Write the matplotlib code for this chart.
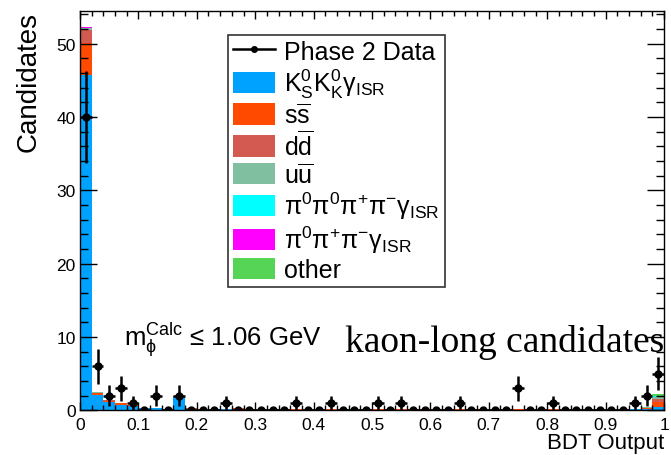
import matplotlib
matplotlib.use("Agg")
import matplotlib.pyplot as plt
import numpy as np
from matplotlib.lines import Line2D
from matplotlib.patches import Patch

plt.rcParams['font.family'] = ['Liberation Sans', 'DejaVu Sans']
plt.rcParams['mathtext.fontset'] = 'custom'
plt.rcParams['mathtext.rm'] = 'Liberation Sans'
plt.rcParams['mathtext.it'] = 'Liberation Sans:italic'

# 50 bins of BDT output between 0 and 1
edges = np.linspace(0, 1, 51)

data_counts = [40, 6, 2, 3, 1, 0, 2, 0, 2, 0,
               0, 0, 1, 0, 0, 0, 0, 0, 1, 0,
               0, 1, 0, 0, 0, 1, 0, 1, 0, 0,
               0, 0, 1, 0, 0, 0, 0, 3, 0, 0,
               1, 0, 0, 0, 0, 0, 0, 1, 2, 5]

kskl = [45.8, 2.1, 1.1, 0.8, 0.6, 0.3, 0.3, 0.2, 1.9, 0.2,
        0.15, 0.15, 0.2, 0.1, 0.1, 0.15, 0.1, 0.1, 0.1, 0.1,
        0.1, 0.1, 0.15, 0.1, 0.1, 0.1, 0.1, 0.1, 0.1, 0.1,
        0.1, 0.1, 0.1, 0.1, 0.1, 0.1, 0.1, 0.1, 0.1, 0.1,
        0.1, 0.1, 0.1, 0.1, 0.15, 0.1, 0.1, 0.15, 0.2, 0.5]
ssbar = [4.3, 0.3, 0.25, 0.2, 0.15, 0.05, 0.05, 0.05, 0.05, 0.15,
         0.05, 0.05, 0.05, 0.2, 0.15, 0.05, 0.05, 0.05, 0.05, 0.05,
         0.05, 0.05, 0.05, 0.1, 0.05, 0.05, 0.05, 0.05, 0.05, 0.05,
         0.05, 0.05, 0.05, 0.05, 0.05, 0.05, 0.1, 0.1, 0.05, 0.05,
         0.05, 0.05, 0.05, 0.05, 0.05, 0.05, 0.05, 0.05, 0.1, 0.7]
ddbar = [1.8, 0.05, 0.03, 0.03, 0.02, 0.02, 0.02, 0.02, 0.02, 0.02,
         0.02, 0.02, 0.02, 0.05, 0.02, 0.02, 0.02, 0.02, 0.02, 0.02,
         0.02, 0.02, 0.02, 0.02, 0.02, 0.02, 0.02, 0.02, 0.02, 0.02,
         0.02, 0.02, 0.02, 0.02, 0.02, 0.02, 0.02, 0.02, 0.02, 0.02,
         0.02, 0.02, 0.02, 0.02, 0.02, 0.02, 0.02, 0.02, 0.1, 0.4]
uubar = [0.2, 0.02, 0, 0, 0, 0, 0, 0, 0, 0,
         0, 0, 0, 0, 0, 0, 0, 0, 0, 0,
         0, 0, 0, 0, 0, 0, 0, 0, 0, 0,
         0, 0, 0, 0, 0, 0, 0, 0, 0, 0,
         0, 0, 0, 0, 0, 0, 0, 0, 0.1, 0.3]
pi4 = [0.1, 0, 0, 0, 0, 0, 0, 0, 0, 0,
       0, 0, 0, 0, 0, 0, 0, 0, 0, 0,
       0, 0, 0, 0, 0, 0, 0, 0, 0, 0,
       0, 0, 0, 0, 0, 0, 0, 0, 0, 0,
       0, 0, 0, 0.05, 0.05, 0, 0, 0, 0, 0.05]
pi3 = [0.05, 0, 0, 0, 0, 0, 0, 0, 0, 0,
       0, 0, 0, 0, 0, 0, 0, 0, 0, 0,
       0, 0, 0, 0, 0, 0, 0, 0, 0, 0,
       0, 0, 0, 0, 0, 0, 0, 0, 0, 0,
       0, 0, 0, 0, 0, 0, 0, 0, 0, 0.05]
other = [0.05, 0, 0, 0, 0, 0, 0, 0, 0, 0,
         0, 0, 0, 0, 0, 0, 0, 0, 0, 0,
         0, 0, 0, 0, 0, 0, 0, 0, 0, 0,
         0, 0, 0, 0, 0, 0, 0, 0, 0, 0,
         0, 0, 0, 0, 0, 0, 0, 0, 0, 0.2]

labels = [r'$\mathregular{K^0_S K^0_K \gamma_{ISR}}$',
          r'$\mathregular{s\overline{s}}$',
          r'$\mathregular{d\overline{d}}$',
          r'$\mathregular{u\overline{u}}$',
          r'$\mathregular{\pi^0\pi^0\pi^{+}\pi^{-} \gamma_{ISR}}$',
          r'$\mathregular{\pi^0\pi^{+}\pi^{-} \gamma_{ISR}}$',
          'other']
colors = ['#00a2ff', '#ff4a00', '#d35a50', '#80c0a0', '#00ffff', '#ff00ff', '#55d455']
components = [kskl, ssbar, ddbar, uubar, pi4, pi3, other]

fig = plt.figure(figsize=(6.71, 4.56), dpi=100)
ax = fig.add_axes([0.1192, 0.0976, 0.8704, 0.8767])

# stacked MC
bottom = np.zeros(50)
for vals, col in zip(components, colors):
    top = bottom + np.array(vals)
    ax.stairs(top, edges, baseline=bottom, fill=True, color=col, lw=0)
    bottom = top

# data points: bin-width horizontal bars, sqrt(N) vertical errors
counts = np.array(data_counts, dtype=float)
centers = 0.5 * (edges[:-1] + edges[1:])
ax.errorbar(centers, counts, xerr=0.01, yerr=np.sqrt(counts), fmt='o', color='black',
            ms=5, lw=1.8, capsize=0)

ax.set_xlim(0, 1)
ax.set_ylim(0, 54.5)
ax.set_xticks(np.arange(0, 1.01, 0.1))
ax.set_xticklabels(['0', '0.1', '0.2', '0.3', '0.4', '0.5', '0.6', '0.7', '0.8', '0.9', '1'])
ax.set_xticks(np.arange(0, 1.001, 0.02), minor=True)
ax.set_yticks([0, 10, 20, 30, 40, 50])
ax.set_yticks(np.arange(0, 54.5, 2), minor=True)
ax.tick_params(axis='both', which='both', direction='in', top=True, right=True,
               labelsize=12.5, width=1)
ax.tick_params(axis='x', which='major', length=6, pad=5)
ax.tick_params(axis='x', which='minor', length=3.5)
ax.tick_params(axis='y', which='major', length=12, pad=3)
ax.tick_params(axis='y', which='minor', length=6)
for s in ax.spines.values():
    s.set_linewidth(1)

ax.set_xlabel('BDT Output', loc='right', fontsize=16, labelpad=0)
ax.set_ylabel('Candidates', loc='top', fontsize=20, labelpad=11)

handles = [Line2D([], [], color='black', marker='o', ms=4, lw=1.8)]
handles += [Patch(facecolor=c, edgecolor='none') for c in colors]
leg = ax.legend(handles, ['Phase 2 Data'] + labels, loc='upper left',
                bbox_to_anchor=(0.253, 0.94), fontsize=18, frameon=True, fancybox=False,
                edgecolor='black', handlelength=1.7, handleheight=0.95,
                handletextpad=0.35, labelspacing=0.1, borderpad=0.2,
                borderaxespad=0)
leg.get_frame().set_linewidth(1.2)

ax.text(0.076, 0.165, r'$\mathregular{m_{\phi}^{Calc}}$ ≤ 1.06 GeV', transform=ax.transAxes,
        fontsize=18.5, va='baseline')
ax.text(1.0, 0.15, 'kaon-long candidates', transform=ax.transAxes, fontsize=27,
        family='Liberation Serif', ha='right', va='baseline')

fig.savefig('out.png', dpi=100)
